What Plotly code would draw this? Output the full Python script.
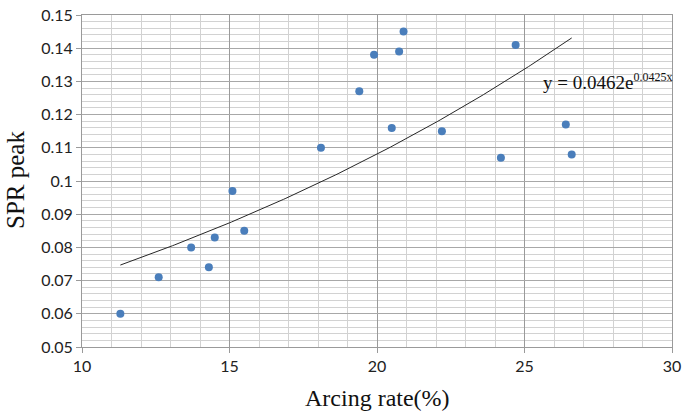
import numpy as np
import plotly.graph_objects as go

arcing_rate = [11.3, 12.6, 13.7, 14.3, 14.5, 15.1, 15.5, 18.1, 19.4, 19.9,
               20.5, 20.75, 20.9, 22.2, 24.2, 24.7, 26.4, 26.6]
spr_peak = [0.060, 0.071, 0.080, 0.074, 0.083, 0.097, 0.085, 0.110, 0.127, 0.138,
            0.116, 0.139, 0.145, 0.115, 0.107, 0.141, 0.117, 0.108]

fit_a = 0.0462
fit_b = 0.0425

y_tick_vals = [0.05, 0.06, 0.07, 0.08, 0.09, 0.10, 0.11, 0.12, 0.13, 0.14, 0.15]
y_tick_text = ["0.05", "0.06", "0.07", "0.08", "0.09", "0.1", "0.11", "0.12", "0.13", "0.14", "0.15"]
x_tick_vals = [10, 15, 20, 25, 30]

xs = np.linspace(min(arcing_rate), max(arcing_rate), 200)
ys = fit_a * np.exp(fit_b * xs)

fig = go.Figure()
fig.add_trace(go.Scatter(x=xs, y=ys, mode="lines",
                         line=dict(color="#262626", width=1), hoverinfo="skip"))
fig.add_trace(go.Scatter(x=arcing_rate, y=spr_peak, mode="markers",
                         marker=dict(color="#4a7ebb", size=8)))

tick_font = dict(family="Lato, Liberation Sans, sans-serif", size=16, color="#222222")
serif = "Liberation Serif, Times New Roman, serif"

fig.update_layout(
    width=684, height=414,
    margin=dict(l=82, r=12, t=15, b=67),
    paper_bgcolor="white", plot_bgcolor="white",
    showlegend=False,
    xaxis=dict(range=[10, 30], tickvals=x_tick_vals, showgrid=True,
               gridcolor="#9a9a9a", gridwidth=1,
               minor=dict(dtick=1, showgrid=True, gridcolor="#d2d2d2", gridwidth=1),
               ticks="outside", ticklen=5, tickcolor="#9a9a9a",
               showline=True, linecolor="#9a9a9a", mirror=True,
               zeroline=False, tickfont=tick_font, automargin=False),
    yaxis=dict(range=[0.05, 0.15], tickvals=y_tick_vals, ticktext=y_tick_text,
               showgrid=True, gridcolor="#a8a8a8", gridwidth=1,
               minor=dict(dtick=0.002, showgrid=True, gridcolor="#d2d2d2", gridwidth=1),
               ticks="outside", ticklen=5, tickcolor="#9a9a9a",
               showline=True, linecolor="#9a9a9a", mirror=True,
               zeroline=False, tickfont=tick_font, automargin=False),
    annotations=[
        dict(x=25.55, y=0.1301, xref="x", yref="y",
             text="y = 0.0462e<sup><span style='font-size:12px'>0.0425x</span></sup>",
             showarrow=False, xanchor="left", yanchor="middle",
             font=dict(family=serif, size=19, color="#111111")),
        dict(x=0.5, y=-0.154, xref="paper", yref="paper", text="Arcing rate(%)",
             showarrow=False, xanchor="center", yanchor="middle",
             font=dict(family=serif, size=24, color="#111111")),
        dict(x=-0.1136, y=0.503, xref="paper", yref="paper", text="SPR peak",
             showarrow=False, xanchor="center", yanchor="middle", textangle=-90,
             font=dict(family=serif, size=25, color="#111111")),
    ],
)

fig.write_html("out.html")
